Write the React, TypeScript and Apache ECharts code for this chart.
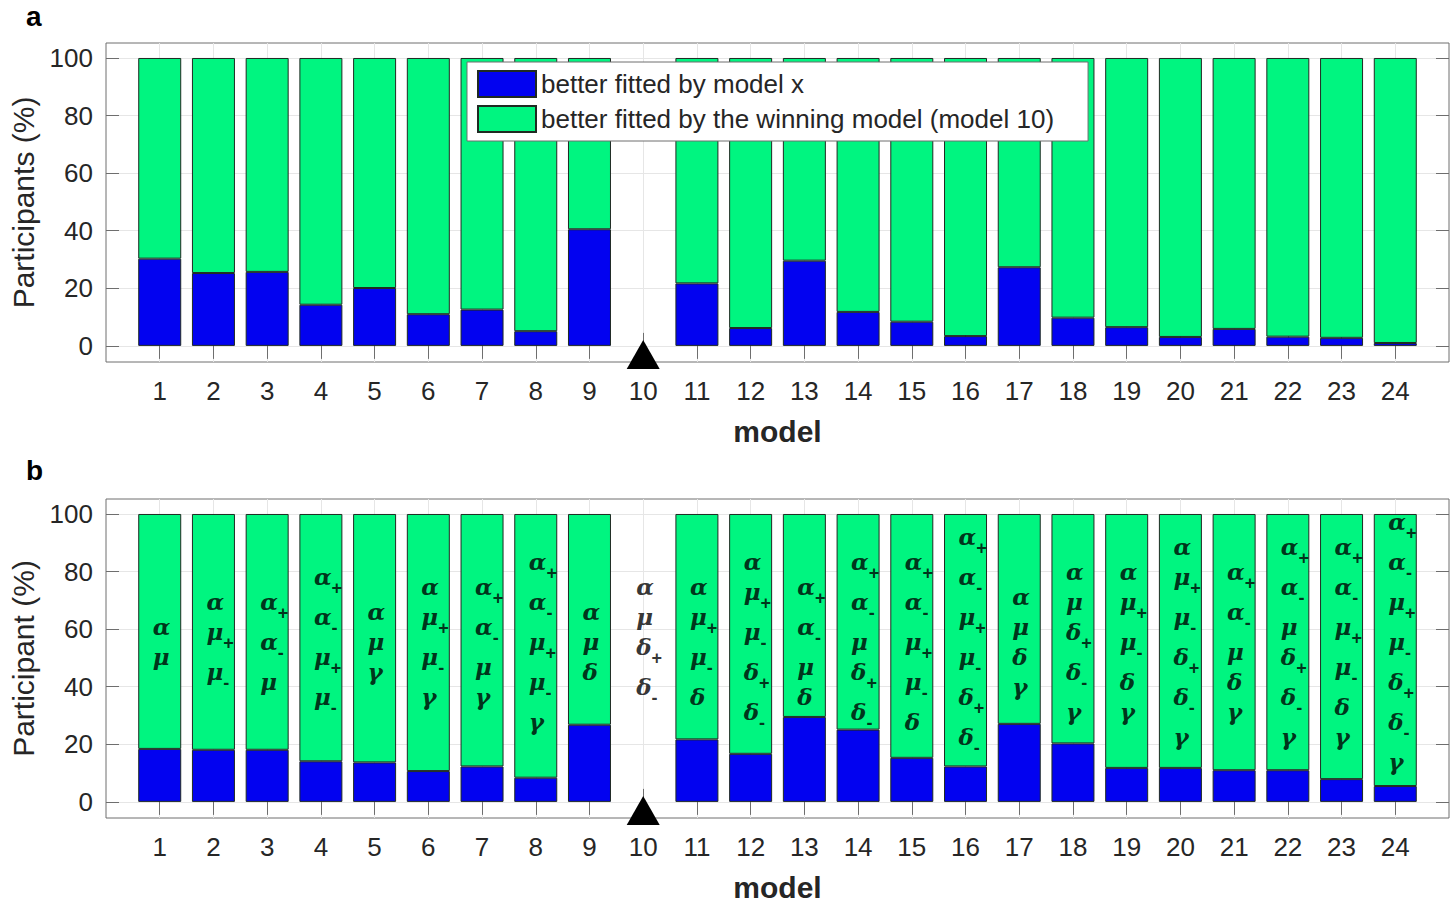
import React, { useEffect, useRef } from "react";
import * as echarts from "echarts";

// ---------- data ----------
const models = [1, 2, 3, 4, 5, 6, 7, 8, 9, 10, 11, 12, 13, 14, 15, 16, 17, 18, 19, 20, 21, 22, 23, 24];
const xCategories = ["0", ...models.map(String), "25"]; // axis runs 0..25, labels only for models
const yTicks = [0, 20, 40, 60, 80, 100];
const winnerModel = 10;
const total = 100;

// panel a: % participants better fitted by model x (model 10 = winner, no bar)
const betterA = [30.3, 25.3, 25.7, 14.3, 20.1, 11.0, 12.6, 5.1, 40.5, null, 21.7, 6.2, 29.6, 11.8, 8.4, 3.4, 27.3, 9.8, 6.5, 3.1, 5.9, 3.2, 2.8, 1.0];
// panel b
const betterB = [18.4, 18.1, 18.1, 14.1, 13.7, 10.7, 12.3, 8.4, 26.8, null, 21.7, 16.7, 29.5, 25.1, 15.3, 12.3, 27.1, 20.3, 11.8, 11.8, 11.0, 11.0, 7.9, 5.5];

// parameters of each model (first char = Greek symbol, rest = subscript)
const paramSets = [
  ["α", "μ"],
  ["α", "μ+", "μ-"],
  ["α+", "α-", "μ"],
  ["α+", "α-", "μ+", "μ-"],
  ["α", "μ", "γ"],
  ["α", "μ+", "μ-", "γ"],
  ["α+", "α-", "μ", "γ"],
  ["α+", "α-", "μ+", "μ-", "γ"],
  ["α", "μ", "δ"],
  ["α", "μ", "δ+", "δ-"],
  ["α", "μ+", "μ-", "δ"],
  ["α", "μ+", "μ-", "δ+", "δ-"],
  ["α+", "α-", "μ", "δ"],
  ["α+", "α-", "μ", "δ+", "δ-"],
  ["α+", "α-", "μ+", "μ-", "δ"],
  ["α+", "α-", "μ+", "μ-", "δ+", "δ-"],
  ["α", "μ", "δ", "γ"],
  ["α", "μ", "δ+", "δ-", "γ"],
  ["α", "μ+", "μ-", "δ", "γ"],
  ["α", "μ+", "μ-", "δ+", "δ-", "γ"],
  ["α+", "α-", "μ", "δ", "γ"],
  ["α+", "α-", "μ", "δ+", "δ-", "γ"],
  ["α+", "α-", "μ+", "μ-", "δ", "γ"],
  ["α+", "α-", "μ+", "μ-", "δ+", "δ-", "γ"],
];

const nameX = "better fitted by model x";
const nameW = "better fitted by the winning model (model 10)";

// ---------- styles ----------
const FONT = "'Liberation Sans', Arial, Helvetica, sans-serif";
const BLUE = "#0202F0";
const GREEN = "#00F580";
const EDGE = "#1f2a22";
const AXIS = "#6e6e6e";
const GRIDC = "#e6e6e6";
const TXT = "#262626";
const Y_MIN = -5.6;
const Y_MAX = 105.2;
const LABEL_Y = 54.5;
const MARK_Y = -3;

const innerTick = (i: number) => i > 0 && i < xCategories.length - 1;

export default function App() {
  const ref = useRef<HTMLDivElement>(null);

  useEffect(() => {
    if (!ref.current) return;
    const chart = echarts.init(ref.current, null, { renderer: "svg" });

    const grids = [
      { left: 106, top: 43, width: 1343, height: 319 },
      { left: 106, top: 499, width: 1343, height: 319 },
    ].map((g) => ({ ...g, show: true, borderColor: AXIS, borderWidth: 1, backgroundColor: "#fff" }));

    const xAxes: any[] = [];
    const yAxes: any[] = [];
    const yNames = ["Participants (%)", "Participant (%)"];
    [0, 1].forEach((g) => {
      xAxes.push({
        type: "category", data: xCategories, boundaryGap: false, gridIndex: g, position: "bottom",
        axisLine: { show: false },
        axisTick: { show: true, inside: true, length: 13, interval: innerTick, lineStyle: { color: AXIS } },
        axisLabel: {
          show: true, interval: 0, margin: 16, fontSize: 26, color: TXT, fontFamily: FONT,
          formatter: (v: string) => (models.includes(Number(v)) ? v : ""),
        },
        splitLine: { show: true, interval: innerTick, lineStyle: { color: GRIDC, width: 1 } },
        name: "model", nameLocation: "middle", nameGap: 54,
        nameTextStyle: { fontSize: 30, fontWeight: "bold", color: TXT, fontFamily: FONT },
      });
      xAxes.push({
        type: "category", data: xCategories, boundaryGap: false, gridIndex: g, position: "top",
        axisLine: { show: false },
        axisTick: { show: true, inside: true, length: 13, interval: innerTick, lineStyle: { color: AXIS } },
        axisLabel: { show: false },
        splitLine: { show: false },
      });
      yAxes.push({
        type: "value", gridIndex: g, position: "left", min: Y_MIN, max: Y_MAX,
        axisLine: { show: false },
        axisTick: { show: true, inside: true, length: 13, customValues: yTicks, lineStyle: { color: AXIS } },
        axisLabel: { show: true, customValues: yTicks, margin: 13, fontSize: 26, color: TXT, fontFamily: FONT },
        splitLine: { show: true, lineStyle: { color: GRIDC, width: 1 } },
        name: yNames[g], nameLocation: "middle", nameGap: 66,
        nameTextStyle: { fontSize: 30, color: TXT, fontFamily: FONT },
      });
      yAxes.push({
        type: "value", gridIndex: g, position: "right", min: Y_MIN, max: Y_MAX,
        axisLine: { show: false },
        axisTick: { show: true, inside: true, length: 13, customValues: yTicks, lineStyle: { color: AXIS } },
        axisLabel: { show: false, customValues: yTicks },
        splitLine: { show: false },
      });
    });

    const series: any[] = [];
    [betterA, betterB].forEach((vals, g) => {
      const idx = models.map((m, i) => i).filter((i) => vals[i] != null);
      series.push({
        type: "bar", name: nameX, xAxisIndex: g * 2, yAxisIndex: g * 2, stack: "s" + g,
        barWidth: 43, data: idx.map((i) => [String(models[i]), vals[i]]),
        itemStyle: { color: BLUE, borderColor: EDGE, borderWidth: 1 },
      });
      series.push({
        type: "bar", name: nameW, xAxisIndex: g * 2, yAxisIndex: g * 2, stack: "s" + g,
        barWidth: 43, data: idx.map((i) => [String(models[i]), total - (vals[i] as number)]),
        itemStyle: { color: GREEN, borderColor: EDGE, borderWidth: 1 },
      });
      series.push({
        type: "scatter", xAxisIndex: g * 2, yAxisIndex: g * 2, silent: true, z: 20,
        symbol: "triangle", symbolSize: [33, 29], clip: false,
        data: [[String(winnerModel), MARK_Y]],
        itemStyle: { color: "#000", opacity: 1 },
      });
    });

    series.push({
      type: "scatter", xAxisIndex: 2, yAxisIndex: 2, silent: true, z: 15,
      symbolSize: 1, itemStyle: { color: "rgba(0,0,0,0)" },
      data: models.map((m) => [String(m), LABEL_Y]),
      label: {
        show: true, position: "inside", align: "left", verticalAlign: "middle", offset: [-7, 0],
        formatter: (p: any) =>
          paramSets[p.dataIndex]
            .map((t) => `{g|${t[0]}}` + (t.length > 1 ? `{s|${t.slice(1)}}` : ""))
            .join("\n"),
        rich: {
          g: {
            fontFamily: "'DejaVu Serif', 'Liberation Serif', serif", fontSize: 23, fontWeight: "bold",
            fontStyle: "italic", color: "#000", lineHeight: 30, verticalAlign: "top",
          },
          s: {
            fontFamily: FONT, fontSize: 18, fontWeight: "bold", color: "#000",
            lineHeight: 40, verticalAlign: "top", padding: [14, 0, 0, 0],
          },
        },
      },
    });

    chart.setOption({
      animation: false,
      grid: grids,
      xAxis: xAxes,
      yAxis: yAxes,
      series,
      legend: {
        data: [nameX, nameW], orient: "vertical", left: 467, top: 62,
        itemWidth: 58, itemHeight: 26, itemGap: 7, icon: "rect", selectedMode: false,
        padding: [8, 34, 8, 10], backgroundColor: "#fff", borderColor: AXIS, borderWidth: 1,
        textStyle: { fontSize: 26, color: TXT, fontFamily: FONT },
      },
      graphic: [
        { type: "text", left: 26, top: 2, style: { text: "a", fontSize: 28, fontWeight: "bold", fill: "#000", fontFamily: FONT } },
        { type: "text", left: 26, top: 456, style: { text: "b", fontSize: 28, fontWeight: "bold", fill: "#000", fontFamily: FONT } },
      ],
    });

    return () => chart.dispose();
  }, []);

  return <div ref={ref} style={{ position: "absolute", left: 0, top: 0, width: 1456, height: 903, background: "#fff" }} />;
}
